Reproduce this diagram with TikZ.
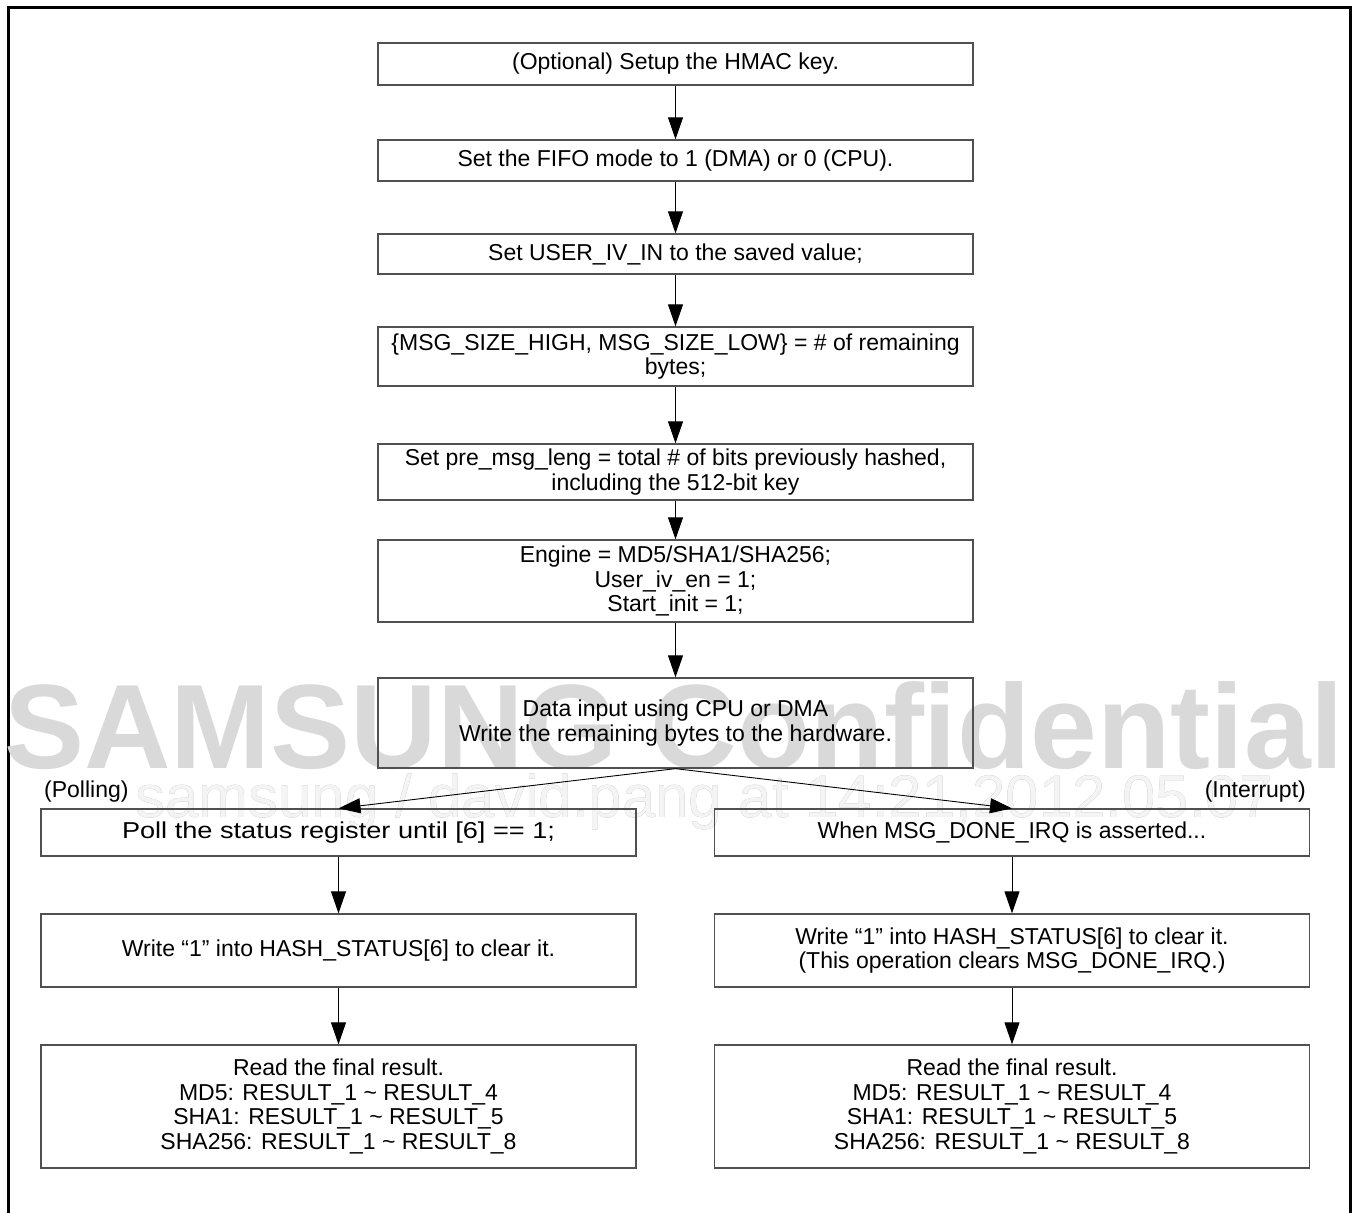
\documentclass[tikz,border=0pt]{standalone}
\usepackage{fontspec}
\setmainfont{Liberation Sans}
\usepackage[outline]{contour}
\contourlength{1.1pt}
\usetikzlibrary{arrows.meta}
\definecolor{wmA}{HTML}{D9D9D9}
\definecolor{wmB}{HTML}{A6A6A6}
\definecolor{wmC}{HTML}{F4F4F4}
\definecolor{boxline}{HTML}{505050}
\tikzset{
  stepbox/.style={draw=boxline, line width=1.3pt, rectangle, inner sep=0pt,
    minimum width=595pt, align=center, font=\fontsize{23}{24.5}\selectfont},
  flow/.style={draw=black, line width=0.9pt, -{Triangle[length=22pt,width=15pt]}},
  lbl/.style={inner sep=0pt, font=\fontsize{23}{24.5}\selectfont},
}
\begin{document}
\begin{tikzpicture}[x=1pt,y=-1pt]
\useasboundingbox (0,0) rectangle (1355,1213);
% outer frame
\draw[line width=3pt] (8,1213) -- (8,7) -- (1350,7) -- (1350,1213);
% watermarks
\node[anchor=base west, inner sep=0pt, text=wmA, font=\bfseries\fontsize{120}{120}\selectfont] (wm1) at (4,768) {SAMSUNG Confidential};
\node[anchor=base west, inner sep=0pt, text=wmC, font=\fontsize{60}{60}\selectfont] (wm2) at (135,817) {\contour{wmB}{samsung / david.pang at 14:21,2012.05.07}};
% main column
\node[stepbox, minimum height=42pt] (b1) at (675.5,64) {(Optional) Setup the HMAC key.};
\node[stepbox, minimum height=41pt] (b2) at (675.5,160.5) {Set the FIFO mode to 1 (DMA) or 0 (CPU).};
\node[stepbox, minimum height=40pt] (b3) at (675.5,254) {Set USER\_IV\_IN to the saved value;};
\node[stepbox, minimum height=59pt] (b4) at (675.5,356.5) {\{MSG\_SIZE\_HIGH, MSG\_SIZE\_LOW\} = \# of remaining\\bytes;};
\node[stepbox, minimum height=56pt] (b5) at (675.5,472) {Set pre\_msg\_leng = total \# of bits previously hashed,\\including the 512-bit key};
\node[stepbox, minimum height=82pt] (b6) at (675.5,581) {Engine = MD5/SHA1/SHA256;\\User\_iv\_en = 1;\\Start\_init = 1;};
\node[stepbox, minimum height=90pt] (b7) at (675.5,723) {Data input using CPU or DMA\\Write the remaining bytes to the hardware.};
% left column
\node[stepbox, minimum height=47pt, font=\fontsize{23}{24.5}\selectfont\addfontfeature{FakeStretch=1.18}] (b8) at (338.5,832.5) {Poll the status register until [6] == 1;};
\node[stepbox, minimum height=73pt] (b9) at (338.5,950.5) {Write “1” into HASH\_STATUS[6] to clear it.};
\node[stepbox, minimum height=123pt] (b10) at (338.5,1106.5) {Read the final result.\\MD5: RESULT\_1 \textasciitilde{} RESULT\_4\\SHA1: RESULT\_1 \textasciitilde{} RESULT\_5\\SHA256: RESULT\_1 \textasciitilde{} RESULT\_8};
% right column
\node[stepbox, minimum height=47pt] (b11) at (1012,832.5) {When MSG\_DONE\_IRQ is asserted...};
\node[stepbox, minimum height=73pt] (b12) at (1012,950.5) {Write “1” into HASH\_STATUS[6] to clear it.\\(This operation clears MSG\_DONE\_IRQ.)};
\node[stepbox, minimum height=123pt] (b13) at (1012,1106.5) {Read the final result.\\MD5: RESULT\_1 \textasciitilde{} RESULT\_4\\SHA1: RESULT\_1 \textasciitilde{} RESULT\_5\\SHA256: RESULT\_1 \textasciitilde{} RESULT\_8};
% labels
\node[lbl, anchor=base west] (lp) at (44,797) {(Polling)};
\node[lbl, anchor=base east] (li) at (1306,797) {(Interrupt)};
% connectors
\draw[flow] (b1) -- (b2);
\draw[flow] (b2) -- (b3);
\draw[flow] (b3) -- (b4);
\draw[flow] (b4) -- (b5);
\draw[flow] (b5) -- (b6);
\draw[flow] (b6) -- (b7);
\draw[flow] (b7.south) -- (b8.north);
\draw[flow] (b7.south) -- (b11.north);
\draw[flow] (b8) -- (b9);
\draw[flow] (b9) -- (b10);
\draw[flow] (b11) -- (b12);
\draw[flow] (b12) -- (b13);
\end{tikzpicture}
\end{document}
